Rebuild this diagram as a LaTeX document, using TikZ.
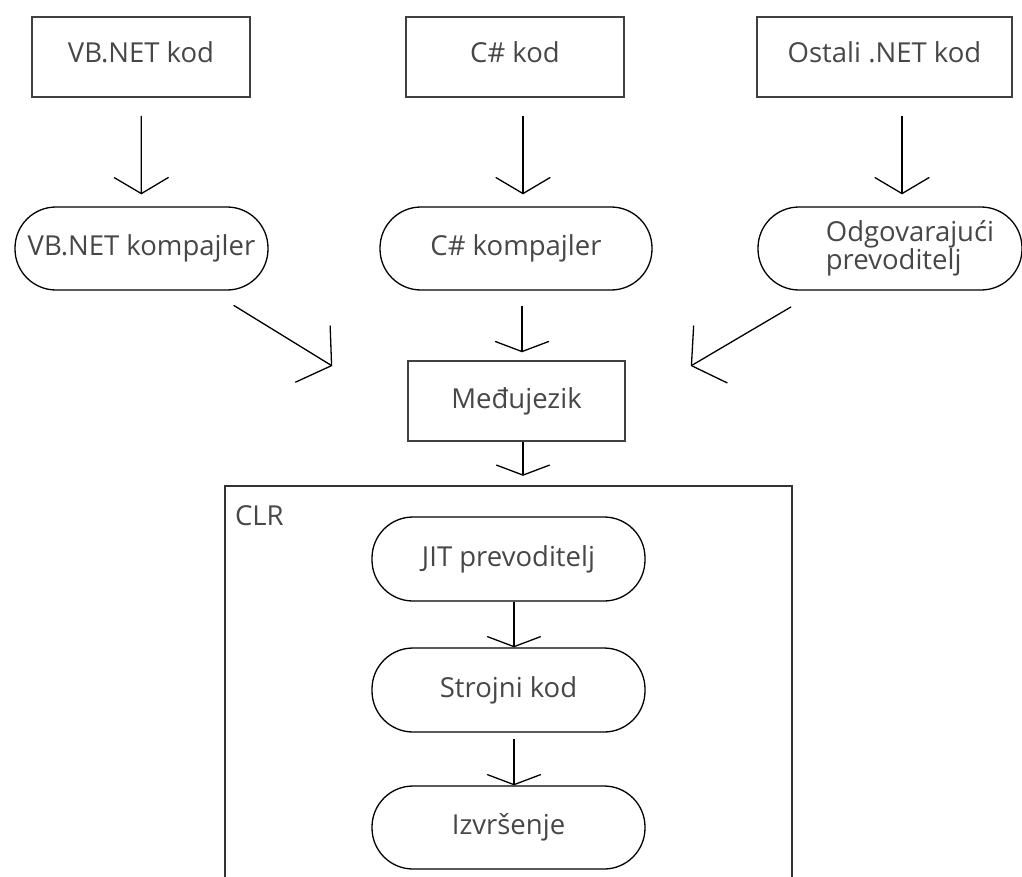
\documentclass[tikz,border=0pt]{standalone}
\usepackage{fontspec}
\setmainfont{Open Sans}
\usetikzlibrary{arrows.meta}

\tikzset{
	srcbox/.style={draw=black!75, line width=1.5pt, minimum width=218pt, minimum height=80pt, inner sep=0pt, text depth=10pt},
	midbox/.style={draw=black!75, line width=1.5pt, minimum width=217pt, minimum height=80pt, inner sep=0pt},
	procbox/.style={draw=black, line width=1.3pt, rounded corners=41pt, minimum width=273pt, minimum height=84pt, inner sep=0pt},
	flow/.style={line width=1.3pt, -{Straight Barb[length=16pt,width=54pt,line cap=round]}},
	flowflat/.style={line width=1.3pt, -{Straight Barb[length=10pt,width=53pt,line cap=round]}},
	flowdiag/.style={line width=1.3pt, -{Straight Barb[length=22pt,width=66pt,line cap=round]}},
}

\begin{document}
\begin{tikzpicture}[x=1pt, y=-1pt, font=\fontsize{27.5}{26}\selectfont, text=black!72]
		%%%%% START %%%%%
		\clip (0, 0) rectangle (1022, 876);
		
		% source code
		\node[srcbox] (vbk) at (141, 57) {VB.NET kod};
		\node[srcbox] (csk) at (515, 57) {C\# kod};
		\node[srcbox, minimum width=255pt] (osk) at (884.5, 57) {Ostali .NET kod};
		
		% compilers
		\node[procbox, minimum width=253pt, minimum height=83pt] (vbc) at (141.5, 248.5) {VB.NET kompajler};
		\node[procbox, minimum width=272pt, minimum height=83pt] (csc) at (516, 248.5) {C\# kompajler};
		\node[procbox, minimum width=264pt, minimum height=83pt, align=left] (odg) at (890, 248.5) {\hspace*{40pt}Odgovarajući\\\hspace*{40pt}prevoditelj};
		
		\node[midbox] (med) at (516.5, 401) {Međujezik};
		\coordinate (lin) at ([xshift=-75pt, yshift=35pt]med.west);
		\coordinate (rin) at ([xshift=65pt, yshift=35pt]med.east);
		
		% runtime
		\draw[draw=black!80, line width=1.5pt] (225, 486) rectangle (792, 914);
		\node[minimum width=567pt, minimum height=428pt] (clr) at (508.5, 700) {};
		\node[anchor=north west, inner sep=0pt] (clrlbl) at ([xshift=10pt, yshift=-20pt]clr.north west) {CLR};
		
		\node[procbox] (jit) at (508.5, 559) {JIT prevoditelj};
		\node[procbox] (sko) at (508.5, 690) {Strojni kod};
		\node[procbox, minimum height=83pt] (izv) at (508.5, 827.5) {Izvršenje};
		
		% arrows
		\draw[flow, shorten <=18pt, shorten >=12pt] (vbk) -- (vbc);
		\draw[flow, shorten <=18pt, shorten >=12pt] ([xshift=8pt]csk.south) -- ([xshift=7pt]csc.north);
		\draw[flow, shorten <=18pt, shorten >=12pt] ([xshift=17.5pt]osk.south) -- ([xshift=12pt]odg.north);
		
		\draw[flowdiag, shorten <=28pt] (vbc) -- (lin);
		\draw[flowflat, shorten <=15pt, shorten >=8pt] ([xshift=6pt]csc.south) -- ([xshift=5.5pt]med.north);
		\draw[flowdiag, shorten <=32pt] (odg) -- (rin);
		
		\draw[flowflat, shorten >=10pt] ([xshift=6.5pt]med.south) -- ([xshift=14.5pt]clr.north);
		\draw[flowflat] ([xshift=5.5pt]jit.south) -- ([xshift=5.5pt]sko.north);
		\draw[flowflat, shorten <=6pt] ([xshift=5.5pt]sko.south) -- ([xshift=5.5pt]izv.north);
		%%%%% END %%%%%
	\end{tikzpicture}
\end{document}
